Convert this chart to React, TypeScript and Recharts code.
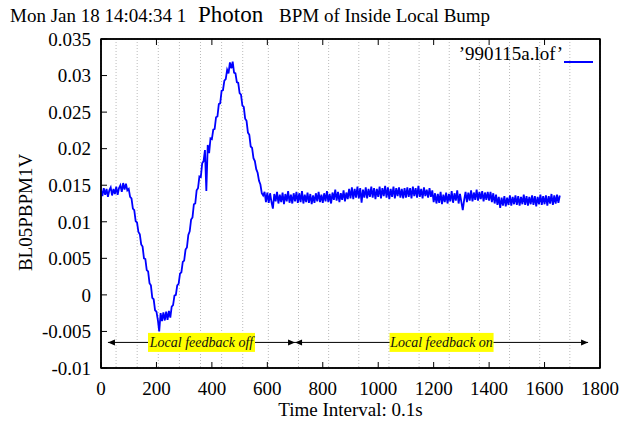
import { LineChart, Line, XAxis, YAxis, CartesianGrid, Legend, ReferenceLine, ReferenceArea } from 'recharts';

// BPM signal, one reading every 5 samples (0.1s each)
const sampleStep = 5;
const bpmValues = [
  // 0 - 95
  0.0144, 0.0135, 0.0146, 0.0137, 0.0145, 0.0134, 0.0143, 0.0147, 0.0136, 0.0145,
  0.0138, 0.0148, 0.0137, 0.0146, 0.0150, 0.0141, 0.0153, 0.0144, 0.0152, 0.0143,
  // 100 - 195
  0.0145, 0.0134, 0.0132, 0.0118, 0.0116, 0.0101, 0.0099, 0.0086, 0.0083, 0.0069,
  0.0066, 0.0050, 0.0049, 0.0034, 0.0032, 0.0016, 0.0013, -0.0004, -0.0006, -0.0021,
  // 200 - 295
  -0.0023, -0.0034, -0.0050, -0.0025, -0.0036, -0.0024, -0.0035, -0.0023, -0.0034, -0.0022,
  -0.0031, -0.0016, -0.0014, -0.0001, 0.0000, 0.0013, 0.0015, 0.0029, 0.0031, 0.0045,
  // 300 - 395
  0.0047, 0.0062, 0.0065, 0.0082, 0.0087, 0.0103, 0.0106, 0.0124, 0.0125, 0.0143,
  0.0146, 0.0162, 0.0161, 0.0180, 0.0183, 0.0198, 0.0142, 0.0205, 0.0194, 0.0214,
  // 400 - 495
  0.0213, 0.0226, 0.0227, 0.0243, 0.0244, 0.0261, 0.0262, 0.0279, 0.0280, 0.0293,
  0.0295, 0.0308, 0.0303, 0.0318, 0.0310, 0.0319, 0.0304, 0.0303, 0.0291, 0.0290,
  // 500 - 595
  0.0276, 0.0274, 0.0259, 0.0257, 0.0241, 0.0238, 0.0222, 0.0219, 0.0203, 0.0201,
  0.0187, 0.0183, 0.0172, 0.0167, 0.0156, 0.0151, 0.0139, 0.0136, 0.0141, 0.0127,
  // 600 - 695
  0.0140, 0.0126, 0.0139, 0.0127, 0.0118, 0.0138, 0.0128, 0.0141, 0.0125, 0.0137,
  0.0127, 0.0140, 0.0124, 0.0138, 0.0128, 0.0142, 0.0126, 0.0137, 0.0125, 0.0139,
  // 700 - 795
  0.0128, 0.0141, 0.0126, 0.0139, 0.0127, 0.0142, 0.0125, 0.0137, 0.0127, 0.0140,
  0.0126, 0.0138, 0.0124, 0.0136, 0.0126, 0.0139, 0.0128, 0.0141, 0.0127, 0.0137,
  // 800 - 895
  0.0126, 0.0139, 0.0128, 0.0142, 0.0127, 0.0138, 0.0125, 0.0140, 0.0130, 0.0144,
  0.0129, 0.0141, 0.0127, 0.0139, 0.0130, 0.0143, 0.0128, 0.0140, 0.0131, 0.0145,
  // 900 - 995
  0.0132, 0.0147, 0.0131, 0.0145, 0.0133, 0.0148, 0.0132, 0.0146, 0.0126, 0.0144,
  0.0133, 0.0147, 0.0132, 0.0145, 0.0134, 0.0148, 0.0133, 0.0146, 0.0131, 0.0145,
  // 1000 - 1095
  0.0134, 0.0148, 0.0132, 0.0146, 0.0135, 0.0149, 0.0133, 0.0147, 0.0131, 0.0145,
  0.0134, 0.0148, 0.0132, 0.0146, 0.0135, 0.0147, 0.0133, 0.0145, 0.0132, 0.0146,
  // 1100 - 1195
  0.0133, 0.0147, 0.0134, 0.0146, 0.0132, 0.0148, 0.0135, 0.0146, 0.0133, 0.0149,
  0.0134, 0.0145, 0.0132, 0.0147, 0.0135, 0.0144, 0.0133, 0.0146, 0.0134, 0.0143,
  // 1200 - 1295
  0.0127, 0.0139, 0.0125, 0.0138, 0.0126, 0.0141, 0.0124, 0.0137, 0.0127, 0.0140,
  0.0125, 0.0138, 0.0128, 0.0142, 0.0126, 0.0139, 0.0129, 0.0143, 0.0125, 0.0138,
  // 1300 - 1395
  0.0127, 0.0116, 0.0130, 0.0141, 0.0127, 0.0140, 0.0129, 0.0143, 0.0128, 0.0140,
  0.0130, 0.0144, 0.0129, 0.0141, 0.0131, 0.0142, 0.0128, 0.0140, 0.0130, 0.0141,
  // 1400 - 1495
  0.0129, 0.0141, 0.0127, 0.0139, 0.0125, 0.0137, 0.0123, 0.0134, 0.0119, 0.0133,
  0.0122, 0.0135, 0.0121, 0.0133, 0.0123, 0.0136, 0.0122, 0.0134, 0.0124, 0.0136,
  // 1500 - 1595
  0.0123, 0.0135, 0.0122, 0.0134, 0.0124, 0.0137, 0.0123, 0.0135, 0.0122, 0.0134,
  0.0124, 0.0136, 0.0123, 0.0135, 0.0121, 0.0134, 0.0124, 0.0137, 0.0123, 0.0135,
  // 1600 - 1655
  0.0124, 0.0136, 0.0122, 0.0135, 0.0125, 0.0138, 0.0123, 0.0136, 0.0125, 0.0137,
  0.0126, 0.0136,
];

const xTicks = [0, 200, 400, 600, 800, 1000, 1200, 1400, 1600, 1800];
const yTicks = [-0.01, -0.005, 0, 0.005, 0.01, 0.015, 0.02, 0.025, 0.03, 0.035];

const feedbackOff = { from: 25, to: 700, y: -0.0065, text: 'Local feedback off' };
const feedbackOn = { from: 700, to: 1757, y: -0.0065, text: 'Local feedback on' };

const seriesName = '\u2019990115a.lof\u2019';

const data = bpmValues.map((v, i) => ({ t: i * sampleStep, v }));

const font = "'Liberation Serif', 'Times New Roman', serif";

const arrowShape = (text: string, boxW: number) => (props: any) => {
  const { x1, y1, x2, y2 } = props;
  const mx = (x1 + x2) / 2;
  const my = (y1 + y2) / 2;
  const h = 7;
  const w = 3;
  const dir = x2 > x1 ? 1 : -1;
  return (
    <g>
      <line x1={x1} y1={y1} x2={x2} y2={y2} stroke="#000" strokeWidth={1} />
      <polygon points={`${x1},${y1} ${x1 + dir * h},${y1 - w} ${x1 + dir * h},${y1 + w}`} fill="#000" />
      <polygon points={`${x2},${y2} ${x2 - dir * h},${y2 - w} ${x2 - dir * h},${y2 + w}`} fill="#000" />
      <rect x={mx - boxW / 2} y={my - 9.5} width={boxW} height={19} fill="#ffff00" />
      <text x={mx} y={my + 5} textAnchor="middle" fontFamily={font} fontStyle="italic" fontSize={14} fill="#111">
        {text}
      </text>
    </g>
  );
};

const renderLegend = () => (
  <div style={{ display: 'flex', justifyContent: 'flex-end', alignItems: 'flex-start', fontFamily: font, fontSize: 19, lineHeight: '20px', height: 20, color: '#000', whiteSpace: 'nowrap' }}>
    <span>{seriesName}</span>
    <span style={{ display: 'inline-block', width: 29, height: 2, background: '#0000ff', marginTop: 17, marginLeft: 1 }} />
  </div>
);

const App = () => {
  return (
    <div style={{ position: 'absolute', left: 0, top: 0, width: 625, height: 423, background: '#fff' }}>
      <svg width={625} height={30} style={{ position: 'absolute', left: 0, top: 0 }}>
        <text x={10} y={22} fontFamily={font} fontSize={19} fill="#000">Mon Jan 18 14:04:34 1</text>
        <text x={198} y={22} fontFamily={font} fontSize={23} fill="#000">Photon</text>
        <text x={279} y={22} fontFamily={font} fontSize={19} fill="#000">BPM of Inside Local Bump</text>
      </svg>
      <LineChart width={625} height={423} data={data} margin={{ top: 38, right: 24, bottom: 0, left: 0 }}>
        <CartesianGrid stroke="#bbb" strokeDasharray="1 2" />
        <XAxis
          xAxisId="bottom"
          dataKey="t"
          type="number"
          domain={[0, 1800]}
          ticks={xTicks}
          height={55}
          tickSize={-6}
          tickMargin={20}
          axisLine={{ stroke: '#000', strokeWidth: 1.5 }}
          tickLine={{ stroke: '#000' }}
          tick={{ fill: '#000', fontFamily: font, fontSize: 19 }}
          label={{ value: 'Time Interval: 0.1s', position: 'insideBottom', offset: 7, fill: '#000', fontFamily: font, fontSize: 19 }}
        />
        <XAxis
          xAxisId="top"
          orientation="top"
          dataKey="t"
          type="number"
          domain={[0, 1800]}
          ticks={xTicks}
          height={1}
          tickSize={-6}
          axisLine={{ stroke: '#000', strokeWidth: 1.5 }}
          tickLine={{ stroke: '#000' }}
          tick={() => <g />}
        />
        <YAxis
          yAxisId="left"
          type="number"
          domain={[-0.01, 0.035]}
          ticks={yTicks}
          width={101}
          tickSize={-6}
          tickMargin={16}
          axisLine={{ stroke: '#000', strokeWidth: 1.5 }}
          tickLine={{ stroke: '#000' }}
          tick={{ fill: '#000', fontFamily: font, fontSize: 19 }}
          label={{
            content: ({ viewBox }: any) => {
              const cy = viewBox.y + viewBox.height / 2 + 9;
              return (
                <text x={32} y={cy} transform={`rotate(-90, 32, ${cy})`} textAnchor="middle" fontFamily={font} fontSize={19} fill="#000">
                  BL05PBPM1V
                </text>
              );
            },
          }}
        />
        <YAxis
          yAxisId="right"
          orientation="right"
          type="number"
          domain={[-0.01, 0.035]}
          ticks={yTicks}
          width={1}
          tickSize={-6}
          axisLine={{ stroke: '#000', strokeWidth: 1.5 }}
          tickLine={{ stroke: '#000' }}
          tick={() => <g />}
        />
        <ReferenceArea
          xAxisId="bottom"
          yAxisId="left"
          x1={0}
          x2={1800}
          y1={-0.01}
          y2={0.035}
          fill="none"
          fillOpacity={0}
          stroke="#000"
          strokeWidth={1.5}
        />
        <Legend
          layout="horizontal"
          verticalAlign="middle"
          align="center"
          wrapperStyle={{ top: 44, left: 393, width: 200 }}
          content={renderLegend}
        />
        <ReferenceLine
          xAxisId="bottom"
          yAxisId="left"
          segment={[{ x: feedbackOff.from, y: feedbackOff.y }, { x: feedbackOff.to, y: feedbackOff.y }]}
          shape={arrowShape(feedbackOff.text, 107)}
        />
        <ReferenceLine
          xAxisId="bottom"
          yAxisId="left"
          segment={[{ x: feedbackOn.from, y: feedbackOn.y }, { x: feedbackOn.to, y: feedbackOn.y }]}
          shape={arrowShape(feedbackOn.text, 104)}
        />
        <Line
          xAxisId="bottom"
          yAxisId="left"
          dataKey="v"
          name={seriesName}
          stroke="#0000ff"
          strokeWidth={1.8}
          dot={false}
          isAnimationActive={false}
        />
      </LineChart>
    </div>
  );
};

export default App;
